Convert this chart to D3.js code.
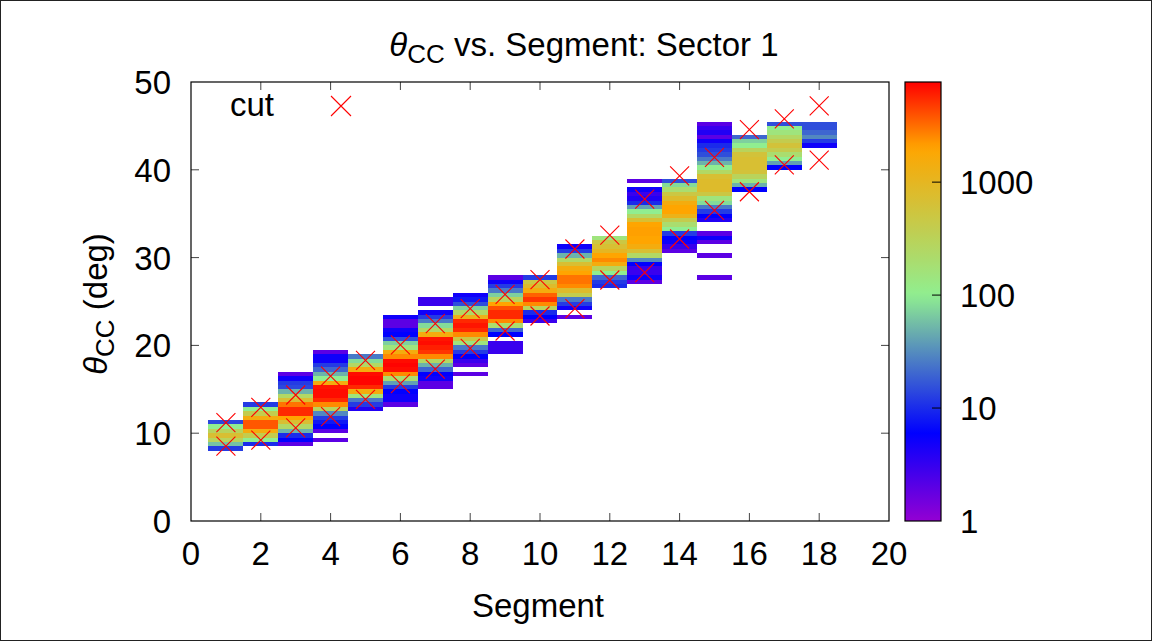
<!DOCTYPE html>
<html>
<head>
<meta charset="utf-8">
<script src="https://cdn.jsdelivr.net/npm/d3@7"></script>
<style>
  body { margin: 0; background: #fff; }
  text { font-family: "Liberation Sans", Arial, sans-serif; fill: #000; }
</style>
</head>
<body>
<div id="chart"></div>
<script>
// segment numbers, lower edge of first theta bin (deg), counts per 0.5 deg bin (bottom -> top)
const segments = d3.range(1, 19);
const binWidth = 0.5;
const binLow = [8.0, 8.5, 8.5, 9.0, 12.5, 13.0, 15.0, 16.5, 19.0, 22.5, 23.0, 26.5, 27.0, 30.5, 27.5, 37.5, 40.0, 42.5];
const counts = [
  [12, 60, 300, 700, 300, 100, 14],
  [10, 100, 400, 1500, 3800, 3800, 1500, 400, 100, 12],
  [2, 6, 10, 50, 250, 700, 2000, 5500, 5500, 3000, 700, 250, 50, 14, 12, 5, 2],
  [2, 0, 2, 6, 8, 12, 30, 300, 2500, 5500, 7000, 7000, 6500, 1500, 100, 50, 20, 12, 5, 5, 2],
  [4, 12, 25, 150, 1500, 5500, 7500, 7500, 7000, 1500, 250, 80, 25],
  [2, 5, 5, 6, 12, 40, 200, 2500, 7000, 7500, 7000, 2500, 1500, 150, 70, 15, 6, 5, 2, 2, 5],
  [2, 2, 5, 6, 20, 50, 250, 2500, 5000, 6000, 7000, 6500, 1500, 250, 80, 25, 12, 5, 0, 3, 3],
  [2, 0, 2, 3, 6, 12, 25, 150, 500, 2500, 5500, 6500, 5500, 1200, 250, 70, 15, 8, 5],
  [3, 3, 3, 0, 6, 20, 200, 2500, 5500, 5500, 4000, 2000, 300, 70, 25, 12, 5, 2],
  [3, 6, 10, 300, 2500, 5000, 3500, 1500, 800, 500, 12],
  [2, 0, 5, 12, 25, 400, 800, 2500, 3000, 3000, 2000, 1500, 700, 250, 50, 12, 5],
  [10, 12, 20, 100, 300, 1500, 2500, 2000, 1000, 700, 500, 150],
  [2, 5, 3, 3, 6, 30, 250, 700, 1500, 2000, 2000, 2100, 2100, 2000, 700, 250, 100, 40, 10, 4, 3, 5, 0, 2],
  [2, 3, 5, 6, 12, 100, 200, 400, 1200, 2000, 2000, 1500, 800, 500, 200, 80, 15],
  [2, 0, 0, 0, 0, 2, 0, 0, 2, 5, 2, 0, 0, 4, 6, 12, 25, 80, 150, 500, 800, 800, 800, 700, 250, 100, 50, 25, 15, 12, 10, 5, 2, 4, 3, 2],
  [6, 50, 150, 300, 600, 700, 700, 700, 600, 300, 100, 70, 20],
  [6, 40, 100, 200, 400, 600, 400, 250, 150, 100, 15],
  [5, 12, 30, 20, 15, 15]
];
// cut points per segment
const cutHigh = [11.2, 12.95, 14.35, 16.5, 18.3, 20.05, 22.47, 24.2, 25.8, 27.5, 30.98, 32.57, 36.67, 39.3, 41.42, 44.57, 45.79, 47.27];
const cutLow = [8.54, 9.22, 10.6, 11.9, 13.86, 15.64, 17.3, 19.67, 21.64, 23.35, 24.2, 27.45, 28.28, 32.12, 35.38, 37.5, 40.55, 41.1];

const xTicks = d3.range(0, 21, 2);
const yTicks = [0, 10, 20, 30, 40, 50];
const cbTicks = [1, 10, 100, 1000];
const cbMax = 7700;

const width = 1153, height = 642;
const pLeft = 191, pRight = 889, pTop = 82, pBottom = 521;

const svg = d3.select("#chart").append("svg")
  .attr("width", width)
  .attr("height", height);

svg.append("rect")
  .attr("x", 0.5).attr("y", 0.5)
  .attr("width", width - 2).attr("height", height - 2)
  .attr("fill", "#fff").attr("stroke", "#222");

const x = d3.scaleLinear().domain([0, 20]).range([pLeft, pRight]);
const y = d3.scaleLinear().domain([0, 50]).range([pBottom, pTop]);

const palette = d3.scaleLinear()
  .domain([0, 0.2, 0.515, 0.85, 1])
  .range(["#9400d3", "#0000ff", "#90ee90", "#ffa500", "#ff0000"])
  .clamp(true);
const cLog = d3.scaleLog().domain([1, cbMax]).range([0, 1]).clamp(true);
const color = c => palette(cLog(c));

// heatmap cells
const cells = [];
segments.forEach((s, i) => {
  counts[i].forEach((c, j) => {
    if (c > 0) cells.push({ s, lo: binLow[i] + j * binWidth, c });
  });
});

svg.append("g")
  .attr("shape-rendering", "crispEdges")
  .selectAll("rect")
  .data(cells)
  .join("rect")
    .attr("x", d => x(d.s - 0.5))
    .attr("width", d => x(d.s + 0.5) - x(d.s - 0.5))
    .attr("y", d => y(d.lo + binWidth))
    .attr("height", d => y(d.lo) - y(d.lo + binWidth))
    .attr("fill", d => color(d.c));

// cut markers
const cuts = [];
segments.forEach((s, i) => {
  cuts.push({ s, v: cutHigh[i] });
  cuts.push({ s, v: cutLow[i] });
});
function cross(g, cx, cy, r) {
  g.append("path")
    .attr("d", `M${cx - r},${cy - r}L${cx + r},${cy + r}M${cx - r},${cy + r}L${cx + r},${cy - r}`)
    .attr("stroke", "#ff0000")
    .attr("stroke-width", 1.1)
    .attr("fill", "none");
}
const markG = svg.append("g");
cuts.forEach(d => cross(markG, x(d.s), y(d.v), 9.5));

// axes: ticks inward, mirrored
const axisG = svg.append("g").attr("stroke", "#444").attr("stroke-width", 1);
xTicks.forEach(t => {
  if (t === 0 || t === 20) return;
  axisG.append("line").attr("x1", x(t)).attr("x2", x(t)).attr("y1", pBottom).attr("y2", pBottom - 8);
  axisG.append("line").attr("x1", x(t)).attr("x2", x(t)).attr("y1", pTop).attr("y2", pTop + 8);
});
yTicks.forEach(t => {
  if (t === 0 || t === 50) return;
  axisG.append("line").attr("x1", pLeft).attr("x2", pLeft + 8).attr("y1", y(t)).attr("y2", y(t));
  axisG.append("line").attr("x1", pRight).attr("x2", pRight - 8).attr("y1", y(t)).attr("y2", y(t));
});
svg.append("rect")
  .attr("x", pLeft).attr("y", pTop)
  .attr("width", pRight - pLeft).attr("height", pBottom - pTop)
  .attr("fill", "none").attr("stroke", "#000").attr("stroke-width", 1.2);

const fs = 33;
svg.append("g").selectAll("text")
  .data(xTicks)
  .join("text")
    .attr("x", d => x(d))
    .attr("y", 565)
    .attr("text-anchor", "middle")
    .attr("font-size", fs)
    .text(d => d);

svg.append("g").selectAll("text")
  .data(yTicks)
  .join("text")
    .attr("x", 171)
    .attr("y", d => y(d) + 12)
    .attr("text-anchor", "end")
    .attr("font-size", fs)
    .text(d => d);

// colour box
const cbLeft = 905, cbRight = 941;
const cbY = d3.scaleLog().domain([1, cbMax]).range([pBottom, pTop]);
const grad = svg.append("defs").append("linearGradient")
  .attr("id", "cbgrad")
  .attr("x1", 0).attr("y1", 1).attr("x2", 0).attr("y2", 0);
d3.range(0, 1.0001, 0.02).forEach(f => {
  grad.append("stop").attr("offset", f).attr("stop-color", palette(f));
});
svg.append("rect")
  .attr("x", cbLeft).attr("y", pTop)
  .attr("width", cbRight - cbLeft).attr("height", pBottom - pTop)
  .attr("fill", "url(#cbgrad)")
  .attr("stroke", "#000").attr("stroke-width", 1.2);
cbTicks.forEach(t => {
  if (t === 1) return;
  svg.append("line")
    .attr("x1", cbRight).attr("x2", cbRight - 9)
    .attr("y1", cbY(t)).attr("y2", cbY(t))
    .attr("stroke", "#000");
});
svg.append("g").selectAll("text")
  .data(cbTicks)
  .join("text")
    .attr("x", 960)
    .attr("y", d => cbY(d) + 12)
    .attr("font-size", fs)
    .text(d => d);

// title
const title = svg.append("text")
  .attr("x", 584).attr("y", 56)
  .attr("text-anchor", "middle")
  .attr("font-size", fs);
title.append("tspan").attr("font-style", "italic").text("θ");
title.append("tspan").attr("font-size", 26).attr("dy", 7).text("CC");
title.append("tspan").attr("dy", -7).text(" vs. Segment: Sector 1");

// axis labels
svg.append("text")
  .attr("x", 538).attr("y", 617)
  .attr("text-anchor", "middle")
  .attr("font-size", fs)
  .text("Segment");

const ylab = svg.append("text")
  .attr("transform", "translate(107,304) rotate(-90)")
  .attr("text-anchor", "middle")
  .attr("font-size", fs);
ylab.append("tspan").attr("font-style", "italic").text("θ");
ylab.append("tspan").attr("font-size", 26).attr("dy", 7).text("CC");
ylab.append("tspan").attr("dy", -7).text(" (deg)");

// legend
svg.append("text")
  .attr("x", 274).attr("y", 116)
  .attr("text-anchor", "end")
  .attr("font-size", fs)
  .text("cut");
cross(svg.append("g"), 341, 106, 10);
</script>
</body>
</html>
